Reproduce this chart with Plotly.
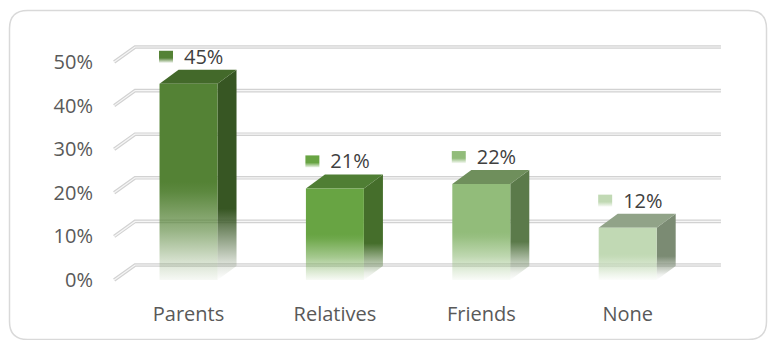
import plotly.graph_objects as go

# Share of respondents by source of support
categories = ["Parents", "Relatives", "Friends", "None"]
shares = [45, 21, 22, 12]
value_labels = ["45%", "21%", "22%", "12%"]

y_ticks = [0, 10, 20, 30, 40, 50]
y_tick_labels = ["0%", "10%", "20%", "30%", "40%", "50%"]

# Face colours of each 3-D column: front, top, side
front_colors = ["#548235", "#68a443", "#92bc7a", "#c1d9b4"]
top_colors = ["#43692a", "#4f7e34", "#6f8f5c", "#91a388"]
side_colors = ["#375623", "#456e2b", "#5b7a4a", "#7b8b73"]

# 3-D geometry, in axis units (x: category slots, y: percent)
HALF_W = 0.198      # half width of the front face
DEPTH_X = 0.13      # column depth, horizontal component
DEPTH_Y = 3.21      # column depth, vertical component
WALL_X = 0.143      # back-wall offset, horizontal
WALL_Y = 3.44       # back-wall offset, vertical
GRID_X0 = -0.365    # back wall left edge
GRID_X1 = 3.637     # back wall right edge

FONT = "Open Sans"


def rgba(hex_color, alpha):
    h = hex_color.lstrip("#")
    r, g, b = int(h[0:2], 16), int(h[2:4], 16), int(h[4:6], 16)
    return f"rgba({r},{g},{b},{alpha:.3f})"


def fade_scale(color, stops, y0, y1):
    """Vertical colour scale from (y, alpha) stops given in axis units."""
    span = y1 - y0
    scale = []
    for y, a in stops:
        f = min(max((y - y0) / span, 0.0), 1.0)
        if scale and f <= scale[-1][0]:
            continue
        scale.append([f, rgba(color, a)])
    if scale[0][0] > 0:
        scale.insert(0, [0.0, scale[0][1]])
    if scale[-1][0] < 1:
        scale.append([1.0, rgba(color, 1.0)])
    return scale


fig = go.Figure()

for i, v in enumerate(shares):
    x = i
    xl, xr = x - HALF_W, x + HALF_W

    # side face
    side_x = [xr, xr + DEPTH_X, xr + DEPTH_X, xr, xr]
    side_y = [0, DEPTH_Y, v + DEPTH_Y, v, 0]
    fig.add_trace(go.Scatter(
        x=side_x, y=side_y, mode="lines", fill="toself",
        line=dict(width=0, color="rgba(0,0,0,0)"),
        fillgradient=dict(
            type="vertical", start=0, stop=v + DEPTH_Y,
            colorscale=fade_scale(side_colors[i],
                                  [(0.0, 0.0), (0.05 * v + 0.6, 0.12),
                                   (0.33 * v + 1.5, 1.0)],
                                  0, v + DEPTH_Y)),
        hoverinfo="skip", showlegend=False))

    # top face
    top_x = [xl, xr, xr + DEPTH_X, xl + DEPTH_X, xl]
    top_y = [v, v, v + DEPTH_Y, v + DEPTH_Y, v]
    fig.add_trace(go.Scatter(
        x=top_x, y=top_y, mode="lines", fill="toself",
        fillcolor=top_colors[i],
        line=dict(width=0, color="rgba(0,0,0,0)"),
        hoverinfo="skip", showlegend=False))

    # front face
    front_x = [xl, xr, xr, xl, xl]
    front_y = [0, 0, v, v, 0]
    fig.add_trace(go.Scatter(
        x=front_x, y=front_y, mode="lines", fill="toself",
        line=dict(width=0, color="rgba(0,0,0,0)"),
        fillgradient=dict(
            type="vertical", start=0, stop=v,
            colorscale=fade_scale(front_colors[i],
                                  [(0.0, 0.05), (0.1 * v, 0.25),
                                   (0.25 * v, 0.6), (0.45 * v, 0.95),
                                   (0.5 * v, 1.0)],
                                  0, v)),
        hoverinfo="skip", showlegend=False))

    # data label: colour key + value text
    ky = v + 6.2
    k0, k1 = ky - 1.38, ky + 1.38
    key_x = [x - 0.2015, x - 0.106, x - 0.106, x - 0.2015, x - 0.2015]
    key_y = [k0, k0, k1, k1, k0]
    fig.add_trace(go.Scatter(
        x=key_x, y=key_y, mode="lines", fill="toself",
        line=dict(width=0, color="rgba(0,0,0,0)"),
        fillgradient=dict(
            type="vertical", start=k0, stop=k1,
            colorscale=[[0, rgba(front_colors[i], 0.1)],
                        [0.4, rgba(front_colors[i], 1.0)],
                        [1, rgba(front_colors[i], 1.0)]]),
        hoverinfo="skip", showlegend=False))

fig.add_trace(go.Scatter(
    x=[i - 0.031 for i in range(len(shares))],
    y=[v + 5.73 for v in shares],
    mode="text", text=value_labels, textposition="middle right",
    textfont=dict(family=FONT, size=20, color="#404040"),
    hoverinfo="skip", showlegend=False))

# back-wall gridlines with their diagonal lead-in from the front plane
shapes = []
for t in y_ticks:
    path = (f"M {GRID_X0 - WALL_X},{t} L {GRID_X0},{t + WALL_Y} "
            f"L {GRID_X1},{t + WALL_Y}")
    shapes.append(dict(type="path", xref="x", yref="y", path=path,
                       layer="below",
                       line=dict(color="#d2d2d2", width=3.6)))
    shapes.append(dict(type="path", xref="x", yref="y", path=path,
                       layer="below",
                       line=dict(color="#f6f6f6", width=1.2)))

# rounded chart-area border
W, H = 768, 340
ML, MR, MT, MB = 108, 38, 40, 47
PW, PH = W - ML - MR, H - MT - MB


def px(xp):
    return (xp - ML) / PW


def py(yp):
    return (H - MB - yp) / PH


bx0, bx1, by0, by1, rad = 9.5, 766.5, 10.5, 339.5, 18
frame = (
    f"M {px(bx0 + rad)},{py(by0)} L {px(bx1 - rad)},{py(by0)} "
    f"Q {px(bx1)},{py(by0)} {px(bx1)},{py(by0 + rad)} "
    f"L {px(bx1)},{py(by1 - rad)} "
    f"Q {px(bx1)},{py(by1)} {px(bx1 - rad)},{py(by1)} "
    f"L {px(bx0 + rad)},{py(by1)} "
    f"Q {px(bx0)},{py(by1)} {px(bx0)},{py(by1 - rad)} "
    f"L {px(bx0)},{py(by0 + rad)} "
    f"Q {px(bx0)},{py(by0)} {px(bx0 + rad)},{py(by0)} Z"
)
shapes.append(dict(type="path", xref="paper", yref="paper", path=frame,
                   layer="below", line=dict(color="#d9d9d9", width=1.5)))

fig.update_layout(
    width=W, height=H,
    margin=dict(l=ML, r=MR, t=MT, b=MB, pad=0),
    paper_bgcolor="white",
    plot_bgcolor="rgba(0,0,0,0)",
    shapes=shapes,
    font=dict(family=FONT),
    xaxis=dict(
        range=[-0.55, 3.699], tickvals=list(range(len(categories))),
        ticktext=categories, showgrid=False, zeroline=False,
        showline=False, ticks="", ticklabelstandoff=7,
        tickfont=dict(family=FONT, size=20, color="#595959"),
        fixedrange=True),
    yaxis=dict(
        range=[-2.98, 55.05], tickvals=y_ticks, ticktext=y_tick_labels,
        showgrid=False, zeroline=False, showline=False, ticks="",
        ticklabelstandoff=14,
        tickfont=dict(family=FONT, size=20, color="#595959"),
        fixedrange=True),
)

fig.write_html("out.html", config={"displayModeBar": False})
